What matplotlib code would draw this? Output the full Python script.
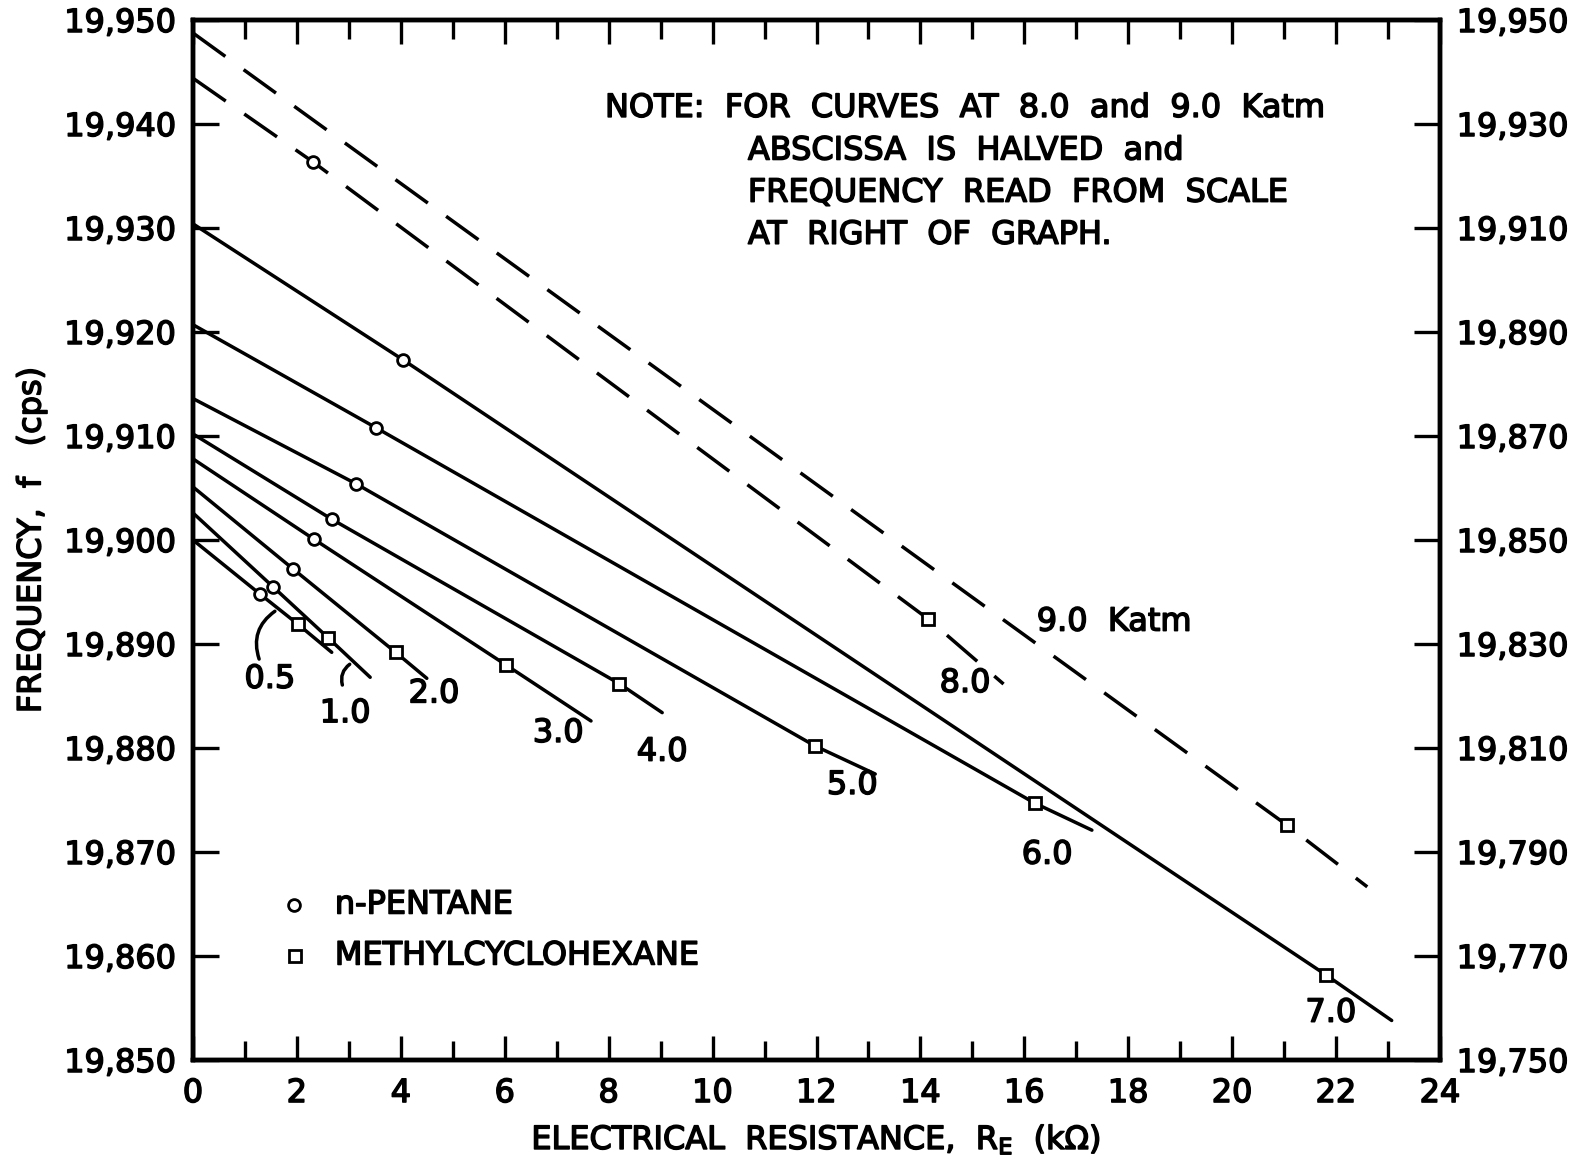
import matplotlib
matplotlib.use("Agg")
import matplotlib.pyplot as plt
import matplotlib.patheffects as pe
from matplotlib.text import Text
from matplotlib.ticker import FuncFormatter, MultipleLocator, FixedLocator

plt.rcParams['font.family'] = ['DejaVu Sans']
plt.rcParams['mathtext.default'] = 'regular'

# Solid curves (left scale): pressure label -> (R in kOhm, f in cps)
p05_x = [0.0, 1.29, 2.02, 2.67]
p05_y = [19900.0, 19894.8, 19891.9, 19889.2]
p10_x = [0.0, 1.54, 2.60, 3.41]
p10_y = [19902.6, 19895.5, 19890.6, 19886.8]
p20_x = [0.0, 1.93, 3.90, 4.50]
p20_y = [19905.1, 19897.2, 19889.2, 19886.7]
p30_x = [0.0, 2.32, 6.02, 7.66]
p30_y = [19907.8, 19900.1, 19888.0, 19882.6]
p40_x = [0.0, 2.67, 8.20, 9.03]
p40_y = [19910.2, 19902.0, 19886.2, 19883.4]
p50_x = [0.0, 3.14, 11.97, 13.13]
p50_y = [19913.6, 19905.4, 19880.2, 19877.5]
p60_x = [0.0, 3.52, 16.20, 17.30]
p60_y = [19920.7, 19910.8, 19874.7, 19872.1]
p70_x = [0.0, 4.05, 21.80, 23.07]
p70_y = [19930.4, 19917.3, 19858.2, 19853.8]

# Dashed curves (right scale, abscissa halved)
p80_x = [0.0, 2.31, 14.15, 15.60]
p80_y = [19938.8, 19922.7, 19834.8, 19822.3]
p90_x = [0.0, 21.05, 22.60]
p90_y = [19947.5, 19795.2, 19783.3]

right_ticks = [19750, 19770, 19790, 19810, 19830, 19850,
               19870, 19890, 19910, 19930, 19950]

# index of the n-pentane (circle) and methylcyclohexane (square) point
solid_curves = [
    ("0.5", p05_x, p05_y, 1, 2),
    ("1.0", p10_x, p10_y, 1, 2),
    ("2.0", p20_x, p20_y, 1, 2),
    ("3.0", p30_x, p30_y, 1, 2),
    ("4.0", p40_x, p40_y, 1, 2),
    ("5.0", p50_x, p50_y, 1, 2),
    ("6.0", p60_x, p60_y, 1, 2),
    ("7.0", p70_x, p70_y, 1, 2),
]

label_pos = {
    "0.5": (1.48, 19886.6), "1.0": (2.93, 19883.3), "2.0": (4.64, 19885.2),
    "3.0": (7.03, 19881.4), "4.0": (9.03, 19879.6), "5.0": (12.69, 19876.4),
    "6.0": (16.44, 19869.7), "7.0": (21.90, 19854.5),
}

note_lines = ["NOTE:  FOR  CURVES  AT  8.0  and  9.0  Katm",
              "ABSCISSA  IS  HALVED  and",
              "FREQUENCY  READ  FROM  SCALE",
              "AT  RIGHT  OF  GRAPH."]

LW = 2.5
FS = 23
mk = dict(markersize=8.5, markeredgewidth=2.0, markerfacecolor='white',
          markeredgecolor='black', linestyle='none', zorder=4)

fig = plt.figure(figsize=(15.81, 11.65), dpi=100)
ax = fig.add_axes([193 / 1581, 1 - 1060 / 1165, 1247 / 1581, 1040 / 1165])
ax2 = ax.twinx()

for name, xs, ys, ic, isq in solid_curves:
    ax.plot(xs, ys, color='black', lw=LW, solid_capstyle='round')
    ax.plot(xs[ic], ys[ic], marker='o', **mk)
    ax.plot(xs[isq], ys[isq], marker='s', **mk)
    lx, ly = label_pos[name]
    ax.text(lx, ly, name, fontsize=FS, ha='center', va='center')

# dashed high-pressure curves on the right-hand scale
ax2.plot(p80_x, p80_y, color='black', lw=LW, dashes=(11.5, 6.5))
ax2.plot(p80_x[1], p80_y[1], marker='o', **mk)
ax2.plot(p80_x[2], p80_y[2], marker='s', **mk)
ax2.plot(p90_x, p90_y, color='black', lw=LW, dashes=(11.5, 6.5))
ax2.plot(p90_x[1], p90_y[1], marker='s', **mk)

ax.text(14.86, 19886.2, "8.0", fontsize=FS, ha='center', va='center')
ax.text(17.73, 19892.1, "9.0  Katm", fontsize=FS, ha='center', va='center')

# leader strokes for the two crowded labels
ax.annotate("", xy=(1.62, 19893.3), xytext=(1.29, 19888.3),
            arrowprops=dict(arrowstyle='-', lw=LW, color='black',
                            connectionstyle='arc3,rad=-0.4'))
ax.annotate("", xy=(3.06, 19888.2), xytext=(2.89, 19885.8),
            arrowprops=dict(arrowstyle='-', lw=LW, color='black',
                            connectionstyle='arc3,rad=-0.4'))

ax.text(7.93, 19941.5, note_lines[0], fontsize=FS, ha='left', va='center')
for i, line in enumerate(note_lines[1:]):
    ax.text(10.68, 19937.4 - 4.05 * i, line, fontsize=FS, ha='left', va='center')

# legend drawn by hand
ax.plot(1.94, 19864.9, marker='o', **mk)
ax.text(2.73, 19864.9, "n-PENTANE", fontsize=FS, ha='left', va='center')
ax.plot(1.96, 19860.0, marker='s', **mk)
ax.text(2.73, 19860.0, "METHYLCYCLOHEXANE", fontsize=FS, ha='left', va='center')

comma = FuncFormatter(lambda v, pos: f"{int(round(v)):,}")

ax.set_xlim(0, 24)
ax.set_ylim(19850, 19950)
ax2.set_ylim(19750, 19950)
ax.xaxis.set_major_locator(MultipleLocator(2))
ax.xaxis.set_minor_locator(MultipleLocator(1))
ax.yaxis.set_major_locator(MultipleLocator(10))
ax2.yaxis.set_major_locator(FixedLocator(right_ticks))
ax.yaxis.set_major_formatter(comma)
ax2.yaxis.set_major_formatter(comma)

ax.tick_params(axis='x', which='both', direction='in', top=True, width=2.4,
               labelsize=FS, pad=13)
ax.tick_params(axis='x', which='major', length=17)
ax.tick_params(axis='x', which='minor', length=14)
ax.tick_params(axis='y', which='major', direction='in', length=19, width=2.4,
               labelsize=FS, pad=12)
ax2.tick_params(axis='y', which='major', direction='in', length=19, width=2.4,
                labelsize=FS, pad=12)

for a in (ax, ax2):
    for s in a.spines.values():
        s.set_linewidth(3.2)

ax.set_xlabel("ELECTRICAL  RESISTANCE,  R$_E$  (k$\\Omega$)",
              fontsize=FS, labelpad=10)
ax.set_ylabel("FREQUENCY,  f   (cps)", fontsize=FS, labelpad=12)

# thicken all lettering a little, like pen-drawn stencil text
fig.canvas.draw()
heavy = [pe.withStroke(linewidth=1.1, foreground='black')]
for t in fig.findobj(Text):
    if t.get_text():
        t.set_path_effects(heavy)

fig.savefig("out.png", dpi=100)
